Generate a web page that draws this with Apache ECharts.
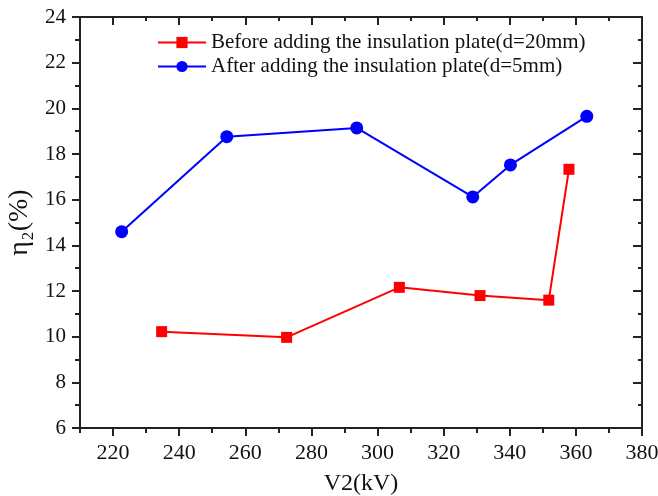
<!DOCTYPE html>
<html>
<head>
<meta charset="utf-8">
<script src="https://cdn.jsdelivr.net/npm/echarts@6/dist/echarts.min.js"></script>
<style>html,body{margin:0;padding:0;background:#fff}#c{width:658px;height:496px}</style>
</head>
<body>
<div id="c"></div>
<script>
var beforeName = 'Before adding the insulation plate(d=20mm)';
var afterName = 'After adding the insulation plate(d=5mm)';
var beforeX = [234.7, 272.5, 306.6, 331.0, 351.8, 357.9];
var beforeY = [10.22, 9.97, 12.16, 11.80, 11.60, 17.33];
var afterX = [222.6, 254.4, 293.7, 328.8, 340.2, 363.3];
var afterY = [14.60, 18.76, 19.14, 16.12, 17.52, 19.65];
var xMajor = [220, 240, 260, 280, 300, 320, 340, 360, 380];
var xMinor = [210, 230, 250, 270, 290, 310, 330, 350, 370];
var xMin = 210, xMax = 380, yMin = 6, yMax = 24;

function pairs(xs, ys) { return xs.map(function (x, i) { return [x, ys[i]]; }); }

var font = 'Liberation Serif, Times New Roman, serif';
var axisCol = '#222';
function xAx(pos, custom, len, showLine, showLabel, inside) {
  return {
    type: 'value', position: pos, min: xMin, max: xMax, interval: 10,
    axisLine: { show: showLine, onZero: false, lineStyle: { color: axisCol, width: 2 } },
    axisTick: { show: true, inside: inside, length: len, customValues: custom, lineStyle: { color: axisCol, width: 2 } },
    axisLabel: { show: showLabel, customValues: xMajor, color: '#111', fontFamily: font, fontSize: 22, margin: 14 },
    splitLine: { show: false }
  };
}
var option = {
  animation: false,
  backgroundColor: '#fff',
  grid: { left: 80, right: 16, top: 17, bottom: 68, containLabel: false, outerBoundsMode: 'none' },
  legend: {
    orient: 'vertical', left: 152, top: 27, itemGap: 3, itemWidth: 48, itemHeight: 14,
    textStyle: { fontFamily: font, fontSize: 21, color: '#111' },
    data: [beforeName, afterName]
  },
  xAxis: [
    Object.assign(xAx('bottom', xMajor, 8, true, true, false), {
      name: 'V2(kV)', nameLocation: 'middle', nameGap: 44,
      nameTextStyle: { fontFamily: font, fontSize: 24, color: '#111' }
    }),
    xAx('bottom', xMinor, 5, false, false, false),
    xAx('top', xMajor, 8, true, false, true),
    xAx('top', xMinor, 4, false, false, true)
  ],
  yAxis: [
    {
      type: 'value', position: 'left', min: yMin, max: yMax, interval: 2,
      name: 'η₂(%)', nameLocation: 'middle', nameGap: 43, nameRotate: 90,
      nameTextStyle: { fontFamily: font, fontSize: 28, color: '#111' },
      axisLine: { show: true, onZero: false, lineStyle: { color: axisCol, width: 2 } },
      axisTick: { show: true, length: 8, lineStyle: { color: axisCol, width: 2 } },
      minorTick: { show: true, splitNumber: 2, length: 5, lineStyle: { color: axisCol, width: 2 } },
      axisLabel: { color: '#111', fontFamily: font, fontSize: 21, margin: 14 },
      splitLine: { show: false }
    },
    {
      type: 'value', position: 'right', min: yMin, max: yMax, interval: 2,
      axisLine: { show: true, onZero: false, lineStyle: { color: axisCol, width: 2 } },
      axisTick: { show: true, inside: true, length: 9, lineStyle: { color: axisCol, width: 2 } },
      minorTick: { show: true, splitNumber: 2, length: 4, lineStyle: { color: axisCol, width: 2 } },
      axisLabel: { show: false },
      splitLine: { show: false }
    }
  ],
  series: [
    {
      name: beforeName, type: 'line', xAxisIndex: 0, yAxisIndex: 0,
      data: pairs(beforeX, beforeY), symbol: 'rect', symbolSize: 11,
      lineStyle: { color: '#ff0000', width: 2 }, itemStyle: { color: '#ff0000' }
    },
    {
      name: afterName, type: 'line', xAxisIndex: 0, yAxisIndex: 0,
      data: pairs(afterX, afterY), symbol: 'circle', symbolSize: 13,
      lineStyle: { color: '#0000ff', width: 2 }, itemStyle: { color: '#0000ff' }
    }
  ]
};
echarts.init(document.getElementById('c'), null, { renderer: 'canvas' }).setOption(option);
</script>
</body>
</html>
